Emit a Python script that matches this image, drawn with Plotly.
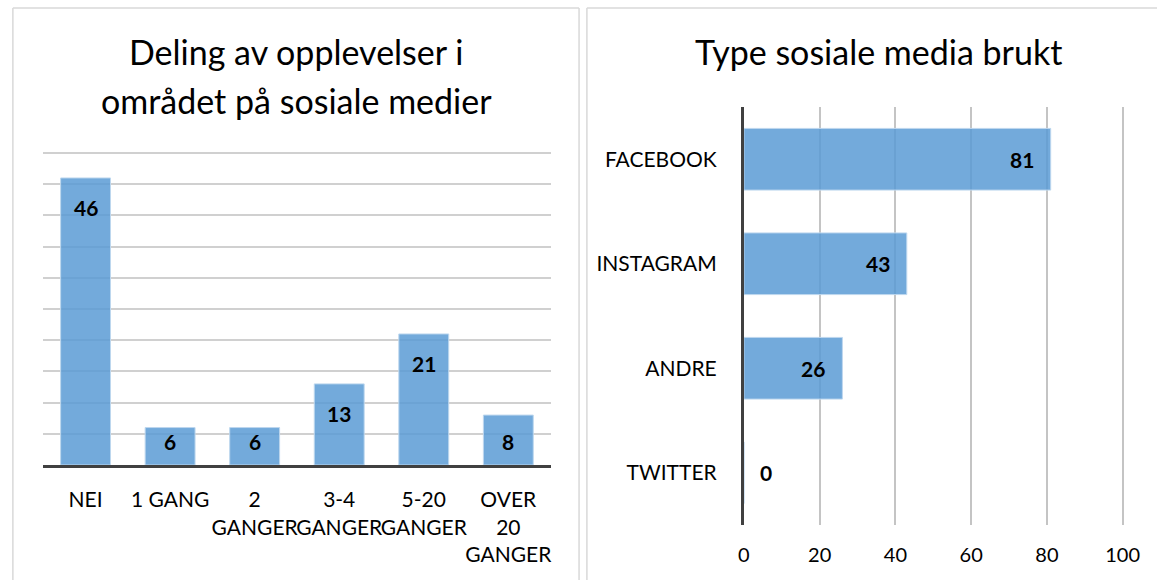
import plotly.graph_objects as go

W, H = 1173, 580

share_title = ["Deling av opplevelser i", "området på sosiale medier"]
share_cats = ["NEI", "1 GANG", "2<br>GANGER", "3-4<br>GANGER", "5-20<br>GANGER", "OVER<br>20<br>GANGER"]
share_vals = [46, 6, 6, 13, 21, 8]

media_title = "Type sosiale media brukt"
media_cats = ["FACEBOOK", "INSTAGRAM", "ANDRE", "TWITTER"]
media_vals = [81, 43, 26, 0]

bar_fill = "rgba(91,155,213,0.85)"
bar_edge = "rgba(189,215,238,1)"
font = "Lato, Calibri, sans-serif"


def px(v):
    return v / W


def py(v):
    return 1 - v / H


fig = go.Figure()

fig.add_trace(go.Bar(
    x=share_cats, y=share_vals, xaxis="x", yaxis="y",
    marker=dict(color=bar_fill, line=dict(color=bar_edge, width=1)),
    width=0.59, hoverinfo="skip",
))
fig.add_trace(go.Bar(
    x=media_vals, y=media_cats, orientation="h", xaxis="x2", yaxis="y2",
    marker=dict(color=bar_fill, line=dict(color=bar_edge, width=1)),
    width=0.59, hoverinfo="skip",
))

# left plot area: value 0 at y=465px, value 50 at y=153px
left_top, left_bot = 153, 465
y_max = 50
unit_px = (left_bot - left_top) / y_max
y_hi = y_max + 0.5  # a little headroom so the top gridline is drawn

# right plot area: value 0 at x=752px, value 100 at x=1138px
right_l, right_r = 752, 1138
x_max = 100
unit_px2 = (right_r - right_l) / x_max
x_hi = x_max + 0.3

annotations = []
for c, v in zip(share_cats, share_vals):
    h = v * unit_px
    shift = min(15, h - 38)
    annotations.append(dict(
        x=c, y=v, xref="x", yref="y", text=f"<b>{v}</b>", showarrow=False,
        yanchor="top", yshift=-shift, font=dict(size=21, color="black", family=font),
    ))

for c, v in zip(media_cats, media_vals):
    w = v * unit_px2
    if w > 40:
        anchor, shift = "right", -15
    else:
        anchor, shift = "left", 14
    annotations.append(dict(
        x=v, y=c, xref="x2", yref="y2", text=f"<b>{v}</b>", showarrow=False,
        xanchor=anchor, xshift=shift, font=dict(size=21, color="black", family=font),
    ))

for line, yc in zip(share_title, [52, 100]):
    annotations.append(dict(
        x=px(296), y=py(yc), xref="paper", yref="paper", showarrow=False, text=line,
        font=dict(size=34, color="black", family=font), xanchor="center", yanchor="middle",
    ))
annotations.append(dict(
    x=px(889), y=py(52), xref="paper", yref="paper", showarrow=False, text=media_title,
    font=dict(size=34, color="black", family=font), xanchor="center", yanchor="middle",
))

# panel frames (edges that are visible inside the picture)
frame = dict(color="#d9d9d9", width=1.5)
shapes = []
for x0, y0, x1, y1 in [
    (7, 8, 584, 8), (7, 8, 7, 580), (584, 8, 584, 580),
    (592, 8, 1173, 8), (592, 8, 592, 580),
]:
    shapes.append(dict(type="line", xref="paper", yref="paper", x0=px(x0), y0=py(y0),
                       x1=px(x1), y1=py(y1), line=frame, layer="below"))

fig.update_layout(
    width=W, height=H, autosize=False, margin=dict(l=0, r=0, t=0, b=0),
    paper_bgcolor="white", plot_bgcolor="white", showlegend=False,
    font=dict(family=font, color="black", size=21),
    annotations=annotations, shapes=shapes,
    xaxis=dict(
        domain=[px(38), px(555)], showgrid=False, showline=True, linecolor="#404040",
        linewidth=3, ticks="", ticklabelstandoff=14, tickfont=dict(size=21),
        tickangle=0, fixedrange=True,
    ),
    yaxis=dict(
        domain=[py(left_bot), py(left_bot - y_hi * unit_px)], range=[0, y_hi], dtick=5,
        showticklabels=False, showgrid=True, gridcolor="#d0d0d0", gridwidth=2,
        zeroline=False, showline=False, fixedrange=True,
    ),
    xaxis2=dict(
        domain=[px(right_l), px(right_l + x_hi * unit_px2)], anchor="y2", range=[0, x_hi],
        dtick=20, showgrid=True, gridcolor="#c4c4c4", gridwidth=1.5, zeroline=False,
        showline=False, ticks="", ticklabelstandoff=16, tickfont=dict(size=20),
        tickangle=0, fixedrange=True,
    ),
    yaxis2=dict(
        domain=[py(525), py(107)], anchor="x2", autorange="reversed",
        showline=True, linecolor="#404040", linewidth=3, showgrid=False,
        ticks="", ticklabelstandoff=20, tickfont=dict(size=21), fixedrange=True,
    ),
    bargap=0.41,
)

page_fix = (
    "document.documentElement.style.overflow='hidden';"
    "document.body.style.margin='0';document.body.style.overflow='hidden';"
)
fig.write_html("out.html", config={"displayModeBar": False, "responsive": False},
               post_script=page_fix)
